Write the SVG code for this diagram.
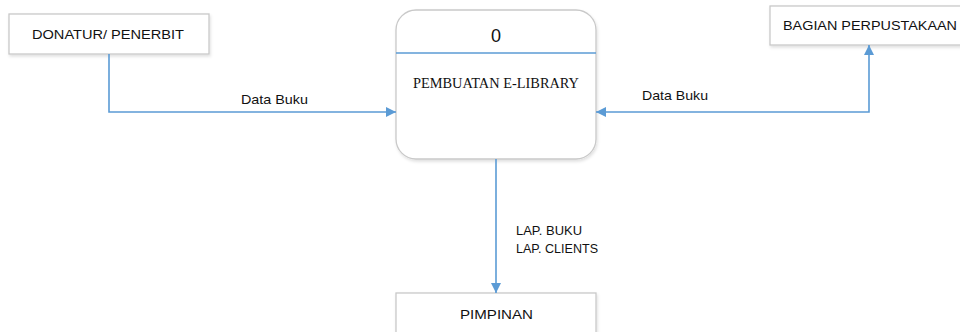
<svg xmlns="http://www.w3.org/2000/svg" width="960" height="332" viewBox="0 0 960 332">
<defs>
<style>
.box{fill:#ffffff;stroke:#c9c9c9;stroke-width:1.3}
.t{font-family:"Liberation Sans","Noto Sans",sans-serif;font-size:13.5px;fill:#111}
.lbl{font-family:"Liberation Sans","Noto Sans",sans-serif;font-size:13px;fill:#111}
.serif{font-family:"Liberation Serif","Times New Roman",serif;font-size:14px;fill:#111}
.conn{fill:none;stroke:#5B9BD5;stroke-width:1.6}
</style>
<marker id="ah" viewBox="0 0 10 10" refX="10" refY="5" markerWidth="11" markerHeight="10" orient="auto-start-reverse" markerUnits="userSpaceOnUse">
<path d="M0,0 L10,5 L0,10 z" fill="#5B9BD5"/>
</marker>
<filter id="sh" x="-10%" y="-10%" width="130%" height="140%">
<feDropShadow dx="1" dy="2" stdDeviation="1.5" flood-color="#000" flood-opacity="0.12"/>
</filter>
</defs>
<g id="donatur">
<rect class="box" x="9" y="14" width="200" height="40" filter="url(#sh)"/>
<text class="t" x="32" y="39" textLength="152" lengthAdjust="spacingAndGlyphs">DONATUR/ PENERBIT</text>
</g>
<g id="process">
<rect class="box" x="396" y="10" width="200" height="149" rx="20" ry="20" filter="url(#sh)"/>
<line x1="396" y1="53" x2="596" y2="53" stroke="#5B9BD5" stroke-width="1.6"/>
<text class="t" x="496" y="42" text-anchor="middle" style="font-size:18px">0</text>
<text class="serif" x="413" y="88" textLength="166" lengthAdjust="spacingAndGlyphs">PEMBUATAN E-LIBRARY</text>
</g>
<g id="bagian">
<rect class="box" x="770" y="6" width="200" height="39" filter="url(#sh)"/>
<text class="t" x="783" y="30" textLength="174" lengthAdjust="spacingAndGlyphs">BAGIAN PERPUSTAKAAN</text>
</g>
<g id="pimpinan">
<rect class="box" x="396" y="293" width="200" height="50" filter="url(#sh)"/>
<text class="t" x="460" y="319" textLength="73" lengthAdjust="spacingAndGlyphs">PIMPINAN</text>
</g>
<g id="connectors">
<polyline class="conn" points="109,54 109,112 396,112" marker-end="url(#ah)"/>
<polyline class="conn" points="596,112 869,112 869,45" marker-start="url(#ah)" marker-end="url(#ah)"/>
<line class="conn" x1="496" y1="159" x2="496" y2="293" marker-end="url(#ah)"/>
<text class="lbl" x="241" y="104" textLength="67" lengthAdjust="spacingAndGlyphs">Data Buku</text>
<text class="lbl" x="642" y="100" textLength="66" lengthAdjust="spacingAndGlyphs">Data Buku</text>
<text class="lbl" x="516" y="235" textLength="66" lengthAdjust="spacingAndGlyphs">LAP. BUKU</text>
<text class="lbl" x="516" y="253" textLength="82" lengthAdjust="spacingAndGlyphs">LAP. CLIENTS</text>
</g>
</svg>
